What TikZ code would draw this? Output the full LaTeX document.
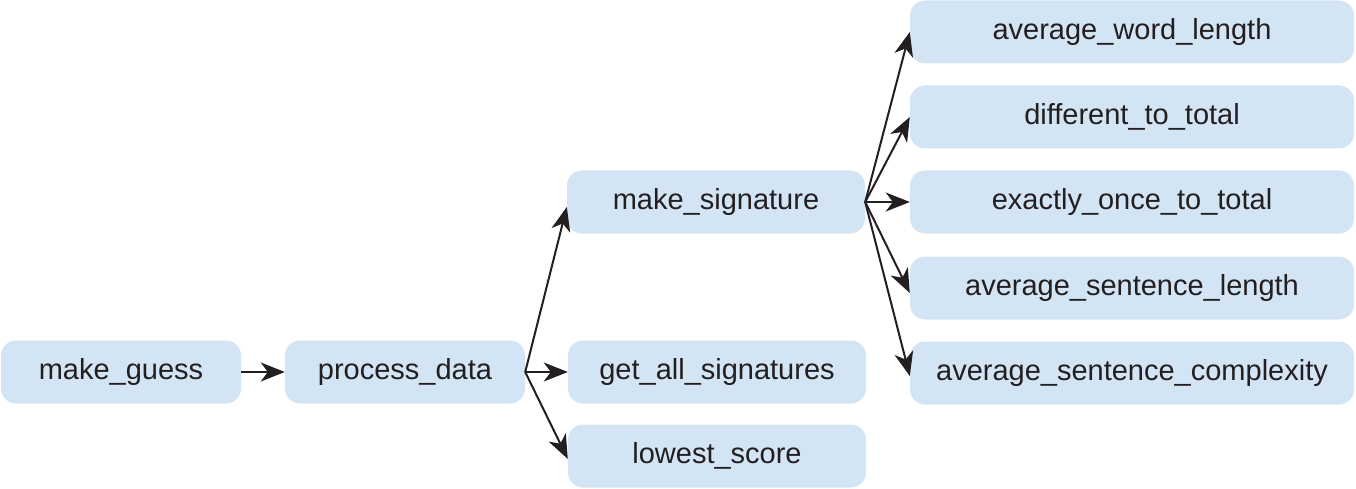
\documentclass[tikz,border=0pt]{standalone}
\usepackage{fontspec}
\setmainfont{Liberation Sans}
\usetikzlibrary{arrows.meta}
\definecolor{boxblue}{HTML}{D3E5F4}
\definecolor{inkblack}{HTML}{231F20}
\tikzset{
    fnbox/.style={fill=boxblue, rounded corners=15pt, minimum height=63pt,
        inner sep=0pt, font=\fontsize{29}{34}\selectfont, text=inkblack},
    callarrow/.style={-{Stealth[length=24pt,width=19pt,inset=7pt]}, line width=2pt, draw=inkblack}
}
\begin{document}
\begin{tikzpicture}[x=1pt,y=-1pt]
    \useasboundingbox (0,0) rectangle (1356,489);
    % first two columns
    \node[fnbox, minimum width=240pt] (guess) at (121,372) {make\_guess};
    \node[fnbox, minimum width=240pt] (process) at (405,372) {process\_data};
    % middle column
    \node[fnbox, minimum width=298pt] (signature) at (716,202) {make\_signature};
    \node[fnbox, minimum width=298pt] (allsigs) at (717,372) {get\_all\_signatures};
    \node[fnbox, minimum width=298pt] (lowest) at (717,456) {lowest\_score};
    % right column
    \node[fnbox, minimum width=444pt] (wordlen) at (1132,32) {average\_word\_length};
    \node[fnbox, minimum width=444pt] (difftotal) at (1132,117) {different\_to\_total};
    \node[fnbox, minimum width=444pt] (oncetotal) at (1132,202) {exactly\_once\_to\_total};
    \node[fnbox, minimum width=444pt] (sentlen) at (1132,288) {average\_sentence\_length};
    \node[fnbox, minimum width=444pt] (sentcomplex) at (1132,373) {average\_sentence\_complexity};
    % calls
    \draw[callarrow] (guess.east) -- (process.west);
    \draw[callarrow] (process.east) -- ([yshift=-5pt]signature.west);
    \draw[callarrow] (process.east) -- (allsigs.west);
    \draw[callarrow] (process.east) -- ([yshift=-3pt]lowest.west);
    \draw[callarrow] (signature.east) -- (wordlen.west);
    \draw[callarrow] (signature.east) -- (difftotal.west);
    \draw[callarrow] (signature.east) -- (oncetotal.west);
    \draw[callarrow] (signature.east) -- ([yshift=-5pt]sentlen.west);
    \draw[callarrow] (signature.east) -- ([yshift=-3pt]sentcomplex.west);
\end{tikzpicture}
\end{document}
